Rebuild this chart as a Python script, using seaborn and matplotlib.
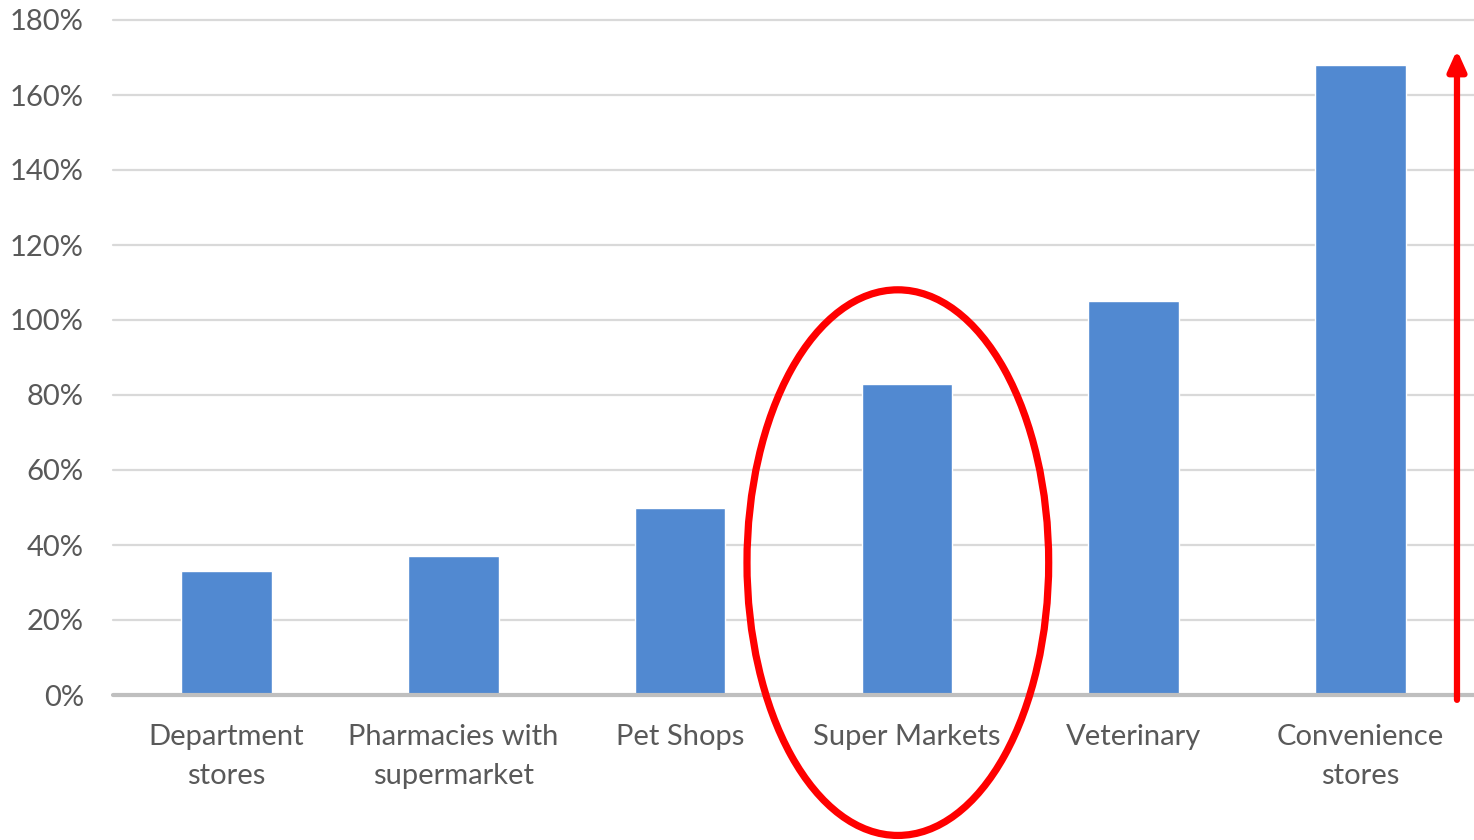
import matplotlib
matplotlib.use("Agg")
import matplotlib.pyplot as plt
from matplotlib.patches import Ellipse
import seaborn as sns
import pandas as pd

categories = ["Department\nstores", "Pharmacies with\nsupermarket", "Pet Shops",
              "Super Markets", "Veterinary", "Convenience\nstores"]
growth_pct = [33, 37, 50, 83, 105, 168]
y_ticks = [0, 20, 40, 60, 80, 100, 120, 140, 160, 180]
tick_labels = [f"{v}%" for v in y_ticks]
highlight = "Super Markets"

df = pd.DataFrame({"category": categories, "growth": growth_pct})

sns.set_theme(style="white")
plt.rcParams["font.family"] = ["Lato", "DejaVu Sans"]

fig = plt.figure(figsize=(14.74, 8.40), dpi=100)
ax = fig.add_axes([113 / 1474, 1 - 695 / 840, 1 - 113 / 1474, (695 - 20) / 840])

sns.barplot(data=df, x="category", y="growth", color="#5189D1", width=0.4,
            saturation=1, ax=ax, zorder=3)

ax.set_xlim(-0.5, len(categories) - 0.5)
ax.set_ylim(0, 180)
ax.set_yticks(y_ticks)
ax.set_yticklabels(tick_labels)
ax.set_xlabel("")
ax.set_ylabel("")

for v in y_ticks[1:]:
    ax.axhline(v, color="#D9D9D9", lw=1.6, zorder=1, clip_on=False)
ax.axhline(0, color="#BFBFBF", lw=3, zorder=4, clip_on=False)

for s in ax.spines.values():
    s.set_visible(False)

ax.tick_params(axis="y", length=0, pad=21, labelsize=21, labelcolor="#595959")
ax.tick_params(axis="x", length=0, pad=21, labelsize=21, labelcolor="#595959")
for lbl in ax.get_xticklabels():
    lbl.set_linespacing(1.6)
    lbl.set_verticalalignment("top")

# Highlight ring around the supermarket bar
hi = categories.index(highlight)
ring = Ellipse((hi - 0.04, 35.3), width=1.33, height=145.5, fill=False,
               edgecolor="#FF0000", lw=5.2, zorder=6, clip_on=False)
ax.add_patch(ring)

# Upward growth arrow on the right edge
ax.annotate("", xy=(5.425, 172), xytext=(5.425, -1.3),
            arrowprops=dict(arrowstyle="-|>,head_length=1.0,head_width=0.45",
                            color="#FF0000", lw=4.5, shrinkA=0, shrinkB=0),
            annotation_clip=False, zorder=7)

fig.savefig("out.png", dpi=100, facecolor="white")
